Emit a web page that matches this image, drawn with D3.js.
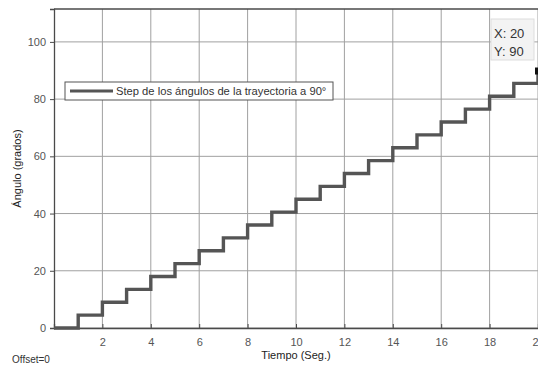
<!DOCTYPE html>
<html>
<head>
<meta charset="utf-8">
<script src="https://cdn.jsdelivr.net/npm/d3@7"></script>
<style>
  body { margin: 0; background: #fff; }
  svg { display: block; font-family: "Liberation Sans", Arial, sans-serif; }
</style>
</head>
<body>
<div id="chart"></div>
<script>
// step times (s) and angle per step (deg)
const tiempo = [0, 1, 2, 3, 4, 5, 6, 7, 8, 9, 10, 11, 12, 13, 14, 15, 16, 17, 18, 19, 20]
const angulo = [0, 4.5, 9, 13.5, 18, 22.5, 27, 31.5, 36, 40.5, 45, 49.5, 54, 58.5, 63, 67.5, 72, 76.5, 81, 85.5, 90]
const xTicks = [2, 4, 6, 8, 10, 12, 14, 16, 18, 20]
const yTicks = [0, 20, 40, 60, 80, 100]
const tip = { x: 20, y: 90 }

const W = 538, H = 366
const margin = { left: 54, top: 9, right: 0, bottom: 38 }

const svg = d3.select('#chart').append('svg').attr('width', W).attr('height', H)

const x = d3.scaleLinear().domain([0, 20]).range([margin.left, W - margin.right])
const y = d3.scaleLinear().domain([0, 111.5]).range([H - margin.bottom, margin.top])

// grid
const grid = svg.append('g').attr('class', 'grid')
grid.selectAll('.vx').data(xTicks).enter().append('line')
  .attr('x1', d => x(d)).attr('x2', d => x(d))
  .attr('y1', y.range()[1]).attr('y2', y.range()[0])
  .attr('stroke', '#a0a0a0').attr('stroke-width', 1)
grid.selectAll('.hy').data(yTicks).enter().append('line')
  .attr('x1', x.range()[0]).attr('x2', x.range()[1])
  .attr('y1', d => y(d)).attr('y2', d => y(d))
  .attr('stroke', '#a0a0a0').attr('stroke-width', 1)

// axes
const xAxis = svg.append('g').attr('transform', `translate(0,${y(0)})`)
  .call(d3.axisBottom(x).tickValues(xTicks).tickSize(-4).tickPadding(10))
const yAxis = svg.append('g').attr('transform', `translate(${x(0)},0)`)
  .call(d3.axisLeft(y).tickValues(yTicks).tickSize(4).tickPadding(4))
;[xAxis, yAxis].forEach(a => {
  a.select('.domain').attr('stroke', '#4a4a4a').attr('stroke-width', 1.3)
  a.selectAll('.tick line').attr('stroke', '#4a4a4a')
  a.selectAll('.tick text').attr('fill', '#555').attr('font-size', 11)
    .attr('font-family', '"Liberation Sans", Arial, sans-serif')
})
// top frame
svg.append('line').attr('x1', x.range()[0]).attr('x2', x.range()[1])
  .attr('y1', y.range()[1]).attr('y2', y.range()[1])
  .attr('stroke', '#4a4a4a').attr('stroke-width', 1.3)

// step line
const pts = tiempo.map((t, i) => [t, angulo[i]])
const line = d3.line().x(d => x(d[0])).y(d => y(d[1])).curve(d3.curveStepAfter)
svg.append('path').datum(pts)
  .attr('d', line)
  .attr('fill', 'none')
  .attr('stroke', '#555')
  .attr('stroke-width', 3.4)

// legend
const lg = svg.append('g').attr('transform', 'translate(65,82)')
lg.append('rect').attr('width', 268).attr('height', 18)
  .attr('fill', '#fff').attr('stroke', '#555').attr('stroke-width', 1)
lg.append('line').attr('x1', 5).attr('x2', 48).attr('y1', 9).attr('y2', 9)
  .attr('stroke', '#555').attr('stroke-width', 3)
lg.append('text').attr('x', 51).attr('y', 13).attr('font-size', 11.2).attr('fill', '#333')
  .text('Step de los ángulos de la trayectoria a 90°')

// data tip
const tg = svg.append('g')
tg.append('rect').attr('x', 491).attr('y', 19).attr('width', 43).attr('height', 41)
  .attr('fill', '#f3f3f3').attr('stroke', '#ddd').attr('stroke-width', 1)
tg.append('text').attr('x', 494).attr('y', 38).attr('font-size', 13).attr('fill', '#333')
  .text(`X: ${tip.x}`)
tg.append('text').attr('x', 494).attr('y', 56).attr('font-size', 13).attr('fill', '#333')
  .text(`Y: ${tip.y}`)
tg.append('rect').attr('x', x(tip.x) - 3).attr('y', y(tip.y) - 3)
  .attr('width', 7).attr('height', 7).attr('fill', '#111')

// labels
svg.append('text').attr('x', (x.range()[0] + x.range()[1]) / 2).attr('y', 359)
  .attr('text-anchor', 'middle').attr('font-size', 11).attr('fill', '#222')
  .text('Tiempo (Seg.)')
svg.append('text')
  .attr('transform', `translate(21,${(y.range()[0] + y.range()[1]) / 2}) rotate(-90)`)
  .attr('text-anchor', 'middle').attr('font-size', 11).attr('fill', '#222')
  .text('Ángulo (grados)')
svg.append('text').attr('x', 12).attr('y', 363).attr('font-size', 10).attr('fill', '#333')
  .text('Offset=0')
</script>
</body>
</html>
